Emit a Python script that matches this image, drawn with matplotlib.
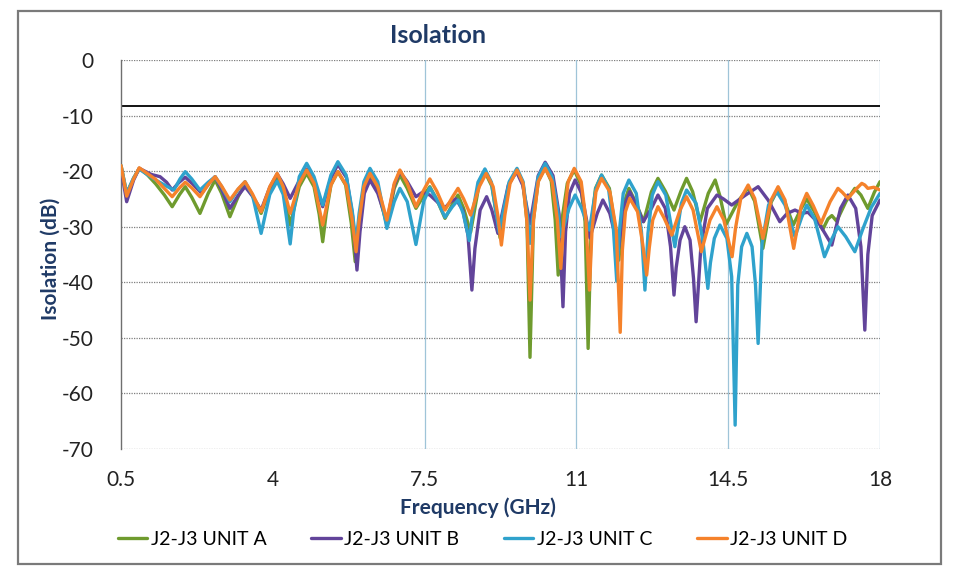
import matplotlib
matplotlib.use('Agg')
import matplotlib.pyplot as plt
from matplotlib.patches import Rectangle

plt.rcParams['font.family'] = ['Lato', 'DejaVu Sans']
plt.rcParams['axes.unicode_minus'] = False

# (frequency GHz, isolation dB)
unit_a = [
    (0.50, -19.0), (0.63, -24.0), (0.79, -21.3), (0.92, -19.5), (1.10, -20.6), (1.30, -22.3), (1.50, -24.3), (1.68, -26.4),
    (1.85, -24.2), (1.98, -22.8), (2.13, -24.7), (2.32, -27.6),
    (2.51, -24.0), (2.67, -21.6), (2.82, -24.0), (3.01, -28.2),
    (3.20, -24.6), (3.36, -22.3), (3.53, -24.4), (3.73, -27.6),
    (3.93, -23.4), (4.10, -21.0), (4.24, -23.4), (4.40, -29.7),
    (4.61, -22.8), (4.78, -20.4), (4.95, -22.8), (5.07, -27.8), (5.15, -32.7),
    (5.23, -27.7), (5.34, -22.5), (5.50, -20.1), (5.68, -22.5), (5.81, -29.4), (5.90, -36.3),
    (5.97, -30.2), (6.09, -23.4), (6.24, -21.0), (6.42, -23.4), (6.63, -29.7),
    (6.80, -23.1), (6.93, -20.7), (7.10, -23.1), (7.30, -26.7),
    (7.48, -24.4), (7.62, -22.8), (7.78, -25.1), (7.97, -28.5),
    (8.14, -26.0), (8.27, -24.3), (8.40, -26.7), (8.56, -31.0),
    (8.75, -22.7), (8.90, -20.3), (9.05, -22.7), (9.24, -32.0),
    (9.33, -27.1), (9.45, -22.2), (9.63, -19.8), (9.77, -22.2), (9.86, -29.1), (9.93, -53.5),
    (10.01, -28.7), (10.12, -21.8), (10.28, -19.4), (10.42, -21.8), (10.51, -28.7), (10.58, -38.7),
    (10.66, -29.1), (10.79, -22.2), (10.95, -19.8), (11.09, -22.2), (11.20, -29.1), (11.27, -51.9),
    (11.34, -30.0), (11.44, -23.1), (11.58, -20.7), (11.76, -23.1), (11.89, -30.0), (11.98, -36.0),
    (12.03, -30.8), (12.11, -25.5), (12.21, -23.1), (12.36, -25.5), (12.55, -29.1),
    (12.73, -23.7), (12.88, -21.3), (13.05, -23.6), (13.25, -27.0),
    (13.41, -23.6), (13.54, -21.3), (13.68, -23.7), (13.85, -29.1),
    (14.04, -24.0), (14.20, -21.6), (14.31, -24.5), (14.45, -29.6),
    (14.73, -25.4), (14.96, -23.0), (15.11, -25.4), (15.30, -33.9),
    (15.49, -25.6), (15.65, -23.2), (15.81, -25.6), (16.00, -29.7),
    (16.17, -26.9), (16.31, -25.0), (16.48, -27.2), (16.68, -30.5),
    (16.80, -28.6), (16.89, -28.0), (17.00, -29.0),
    (17.22, -25.4), (17.42, -23.1), (17.56, -24.3), (17.72, -26.7), (17.87, -23.8), (18.00, -21.9),
]

unit_b = [
    (0.50, -19.5), (0.63, -25.5), (0.79, -21.6), (0.92, -19.5), (1.20, -20.6), (1.40, -21.0), (1.55, -22.0), (1.68, -23.4),
    (1.84, -22.0), (1.98, -21.1), (2.15, -22.3), (2.36, -24.0),
    (2.53, -22.2), (2.67, -21.0), (2.82, -23.3), (3.01, -26.7),
    (3.20, -24.4), (3.36, -22.8), (3.53, -24.5), (3.73, -27.0),
    (3.93, -22.9), (4.10, -20.5), (4.24, -22.3), (4.40, -24.9),
    (4.61, -21.7), (4.78, -19.6), (4.95, -22.0), (5.15, -26.4),
    (5.34, -21.2), (5.50, -18.8), (5.70, -21.2), (5.84, -28.1), (5.94, -37.8),
    (6.01, -30.9), (6.11, -24.0), (6.24, -21.6), (6.42, -24.0), (6.63, -29.1),
    (6.80, -22.5), (6.93, -20.1), (7.10, -21.9), (7.30, -24.6),
    (7.45, -23.8), (7.62, -24.3), (7.80, -25.6), (7.97, -26.6), (8.10, -25.5), (8.22, -25.0),
    (8.38, -27.0), (8.50, -31.5), (8.59, -41.4),
    (8.66, -33.9), (8.78, -27.0), (8.93, -24.6), (9.05, -27.0), (9.19, -31.2),
    (9.43, -22.5), (9.62, -20.1), (9.76, -22.5), (9.93, -29.5),
    (10.12, -20.8), (10.28, -18.4), (10.46, -20.8), (10.60, -27.7), (10.69, -44.4),
    (10.75, -30.9), (10.84, -24.0), (10.97, -21.6), (11.12, -24.0), (11.31, -32.0),
    (11.48, -27.6), (11.61, -25.2), (11.77, -27.6), (11.97, -34.0),
    (12.11, -26.1), (12.23, -23.7), (12.37, -25.9), (12.54, -29.1),
    (12.73, -26.7), (12.88, -24.3), (13.05, -26.7), (13.17, -33.6), (13.25, -42.3),
    (13.30, -37.4), (13.39, -32.4), (13.50, -30.0), (13.62, -32.4), (13.70, -39.3), (13.76, -47.1),
    (13.87, -33.6), (14.02, -26.7), (14.24, -24.3), (14.39, -25.0), (14.58, -26.1),
    (14.90, -24.3), (15.19, -22.8), (15.42, -25.2), (15.69, -29.1),
    (15.86, -27.6), (16.04, -27.0), (16.20, -27.6), (16.34, -27.4), (16.60, -29.5), (16.89, -33.3),
    (17.09, -26.7), (17.26, -24.3), (17.44, -26.7), (17.56, -33.6), (17.65, -48.6),
    (17.72, -35.0), (17.82, -28.0), (18.00, -25.2),
]

unit_c = [
    (0.50, -19.0), (0.63, -24.0), (0.79, -21.2), (0.92, -19.6), (1.10, -20.6), (1.30, -21.6), (1.55, -22.7), (1.72, -23.4),
    (1.86, -21.4), (1.98, -20.1), (2.13, -21.4), (2.32, -23.4),
    (2.51, -22.0), (2.67, -21.0), (2.82, -22.8), (3.01, -25.5),
    (3.20, -23.3), (3.36, -21.9), (3.53, -24.3), (3.73, -31.2),
    (3.93, -24.2), (4.10, -21.8), (4.24, -24.2), (4.40, -33.1),
    (4.48, -27.3), (4.61, -21.0), (4.78, -18.6), (4.95, -21.0), (5.15, -26.1),
    (5.34, -20.7), (5.50, -18.3), (5.69, -20.7), (5.83, -27.1), (5.92, -33.0),
    (5.99, -27.6), (6.10, -21.9), (6.24, -19.5), (6.42, -21.9), (6.63, -30.3),
    (6.80, -25.5), (6.93, -23.1), (7.10, -25.5), (7.30, -33.2),
    (7.48, -25.4), (7.62, -23.0), (7.78, -25.1), (7.97, -28.3),
    (8.14, -26.4), (8.27, -25.2), (8.39, -27.6), (8.53, -32.5),
    (8.61, -27.3), (8.73, -22.0), (8.89, -19.6), (9.04, -22.0), (9.22, -31.0),
    (9.45, -21.9), (9.63, -19.5), (9.77, -21.9), (9.86, -27.5), (9.93, -33.0),
    (10.01, -27.2), (10.12, -21.0), (10.28, -18.6), (10.44, -21.0), (10.56, -26.5), (10.64, -31.8),
    (10.83, -26.7), (10.97, -24.3), (11.12, -26.7), (11.30, -30.6),
    (11.45, -23.1), (11.58, -20.7), (11.74, -23.1), (11.85, -30.0), (11.93, -39.8),
    (11.99, -30.9), (12.08, -24.0), (12.21, -21.6), (12.38, -24.0), (12.50, -30.9), (12.58, -41.4),
    (12.65, -31.2), (12.75, -24.3), (12.88, -21.9), (13.06, -24.3), (13.27, -33.6),
    (13.42, -25.8), (13.54, -23.4), (13.76, -25.8), (13.92, -32.7), (14.03, -41.1),
    (14.09, -36.5), (14.18, -32.1), (14.31, -29.7), (14.47, -32.1), (14.58, -39.0), (14.66, -65.7),
    (14.72, -40.5), (14.81, -33.6), (14.93, -31.2), (15.05, -33.6), (15.13, -40.5), (15.19, -51.0),
    (15.28, -33.0), (15.43, -26.1), (15.62, -23.7), (15.81, -26.1), (16.04, -31.8),
    (16.19, -28.4), (16.31, -26.1), (16.49, -28.5), (16.72, -35.4),
    (16.89, -32.2), (17.03, -30.0), (17.21, -31.8), (17.42, -34.5),
    (17.60, -30.5), (17.80, -26.5), (18.00, -24.0),
]

unit_d = [
    (0.50, -19.0), (0.63, -24.5), (0.79, -21.4), (0.92, -19.4), (1.10, -20.4), (1.30, -21.5), (1.68, -24.6),
    (1.85, -23.0), (1.98, -22.0), (2.13, -23.0), (2.32, -24.6),
    (2.51, -22.4), (2.67, -21.0), (2.82, -22.7), (3.01, -25.2),
    (3.20, -23.2), (3.36, -21.9), (3.53, -24.1), (3.73, -27.3),
    (3.93, -22.8), (4.10, -20.4), (4.24, -22.8), (4.40, -27.6),
    (4.61, -22.2), (4.78, -19.8), (4.95, -22.2), (5.15, -29.7),
    (5.34, -22.5), (5.50, -20.1), (5.69, -22.5), (5.83, -28.7), (5.92, -34.5), (5.99, -28.9),
    (6.10, -22.8), (6.24, -20.4), (6.42, -22.8), (6.63, -28.8),
    (6.80, -22.2), (6.93, -19.8), (7.10, -22.2), (7.30, -26.4),
    (7.48, -23.4), (7.62, -21.4), (7.78, -23.6), (7.97, -27.0),
    (8.14, -24.7), (8.27, -23.1), (8.40, -25.0), (8.56, -27.9),
    (8.76, -22.8), (8.92, -20.4), (9.08, -22.8), (9.19, -28.1), (9.27, -33.3), (9.35, -27.9),
    (9.47, -22.2), (9.63, -19.8), (9.77, -22.2), (9.86, -29.1), (9.93, -43.2), (10.01, -28.8),
    (10.12, -21.9), (10.28, -19.5), (10.44, -21.9), (10.56, -28.8), (10.64, -37.5), (10.71, -28.8),
    (10.81, -21.9), (10.95, -19.5), (11.11, -21.9), (11.22, -28.8), (11.30, -41.4), (11.36, -30.6),
    (11.45, -23.7), (11.58, -21.3), (11.77, -23.7), (11.92, -30.6), (12.01, -49.0), (12.06, -34.2),
    (12.13, -27.3), (12.23, -24.9), (12.41, -27.3), (12.53, -33.2), (12.62, -38.7), (12.68, -33.8),
    (12.76, -28.8), (12.88, -26.4), (13.02, -28.4), (13.20, -31.5),
    (13.39, -27.0), (13.54, -24.6), (13.69, -27.0), (13.88, -34.5),
    (14.08, -28.8), (14.24, -26.4), (14.40, -28.8), (14.59, -35.4), (14.67, -30.2),
    (14.79, -24.9), (14.96, -22.5), (15.11, -24.9), (15.30, -32.1),
    (15.49, -25.2), (15.65, -22.8), (15.81, -25.2), (16.01, -33.9),
    (16.18, -26.4), (16.31, -24.0), (16.46, -26.2), (16.64, -29.4),
    (16.85, -25.5), (17.03, -23.1), (17.13, -23.8), (17.26, -24.9),
    (17.44, -23.3), (17.58, -22.2), (17.65, -22.5), (17.72, -23.1), (17.86, -22.9), (18.00, -23.4),
]

series_names = ['J2-J3 UNIT A', 'J2-J3 UNIT B', 'J2-J3 UNIT C', 'J2-J3 UNIT D']
series_colors = ['#6F9B2E', '#62449A', '#2FA2CC', '#F5822B']
limit_db = -8.2
x_ticks = [0.5, 4, 7.5, 11, 14.5, 18]
x_labels = ['0.5', '4', '7.5', '11', '14.5', '18']
y_ticks = [0, -10, -20, -30, -40, -50, -60, -70]

navy = '#1F3A66'

fig = plt.figure(figsize=(9.56, 5.67), dpi=100)
ax = fig.add_axes([0.1266, 0.2081, 0.7939, 0.6861])

# outer frame of the chart
fig.patches.append(Rectangle((0.019, 0.005), 0.965, 0.975, transform=fig.transFigure,
                             fill=False, edgecolor='#7a7a7a', linewidth=1.6))

# grid
for y in y_ticks:
    ax.axhline(y, color='#7f7f7f', linestyle=(0, (1, 1)), linewidth=0.9, zorder=1)
for x in [7.5, 11, 14.5, 18]:
    ax.axvline(x, color='#9fc4d8', linewidth=0.9, zorder=1)

# limit line
ax.axhline(limit_db, color='black', linewidth=1.3, zorder=2)

for data, name, col in zip([unit_a, unit_b, unit_c, unit_d], series_names, series_colors):
    f = [p[0] for p in data]
    v = [p[1] for p in data]
    ax.plot(f, v, color=col, linewidth=2.4, label=name, zorder=3,
            solid_joinstyle='round', solid_capstyle='round')

ax.set_xlim(0.5, 18)
ax.set_ylim(-70, 0)
ax.set_xticks(x_ticks)
ax.set_xticklabels(x_labels)
ax.set_yticks(y_ticks)
ax.tick_params(length=0, labelsize=15, colors='#222222')
ax.tick_params(axis='x', pad=15)
ax.tick_params(axis='y', pad=20)

for s in ['top', 'right', 'bottom']:
    ax.spines[s].set_visible(False)
ax.spines['left'].set_color('#6f6f6f')
ax.spines['left'].set_linewidth(1.0)

fig.text(0.458, 0.938, 'Isolation', fontsize=18, fontweight='bold', color=navy,
         ha='center', va='center')
ax.set_xlabel('Frequency (GHz)', fontsize=15, fontweight='bold', color=navy)
ax.xaxis.set_label_coords(0.470, -0.125)
ax.set_ylabel('Isolation (dB)', fontsize=15, fontweight='bold', color=navy)
ax.yaxis.set_label_coords(-0.079, 0.49)

fig.legend(loc='center', bbox_to_anchor=(0.505, 0.048), ncol=4, frameon=False,
           fontsize=14, handlelength=1.5, handletextpad=0.2, columnspacing=2.3)

fig.savefig('out.png', dpi=100)
